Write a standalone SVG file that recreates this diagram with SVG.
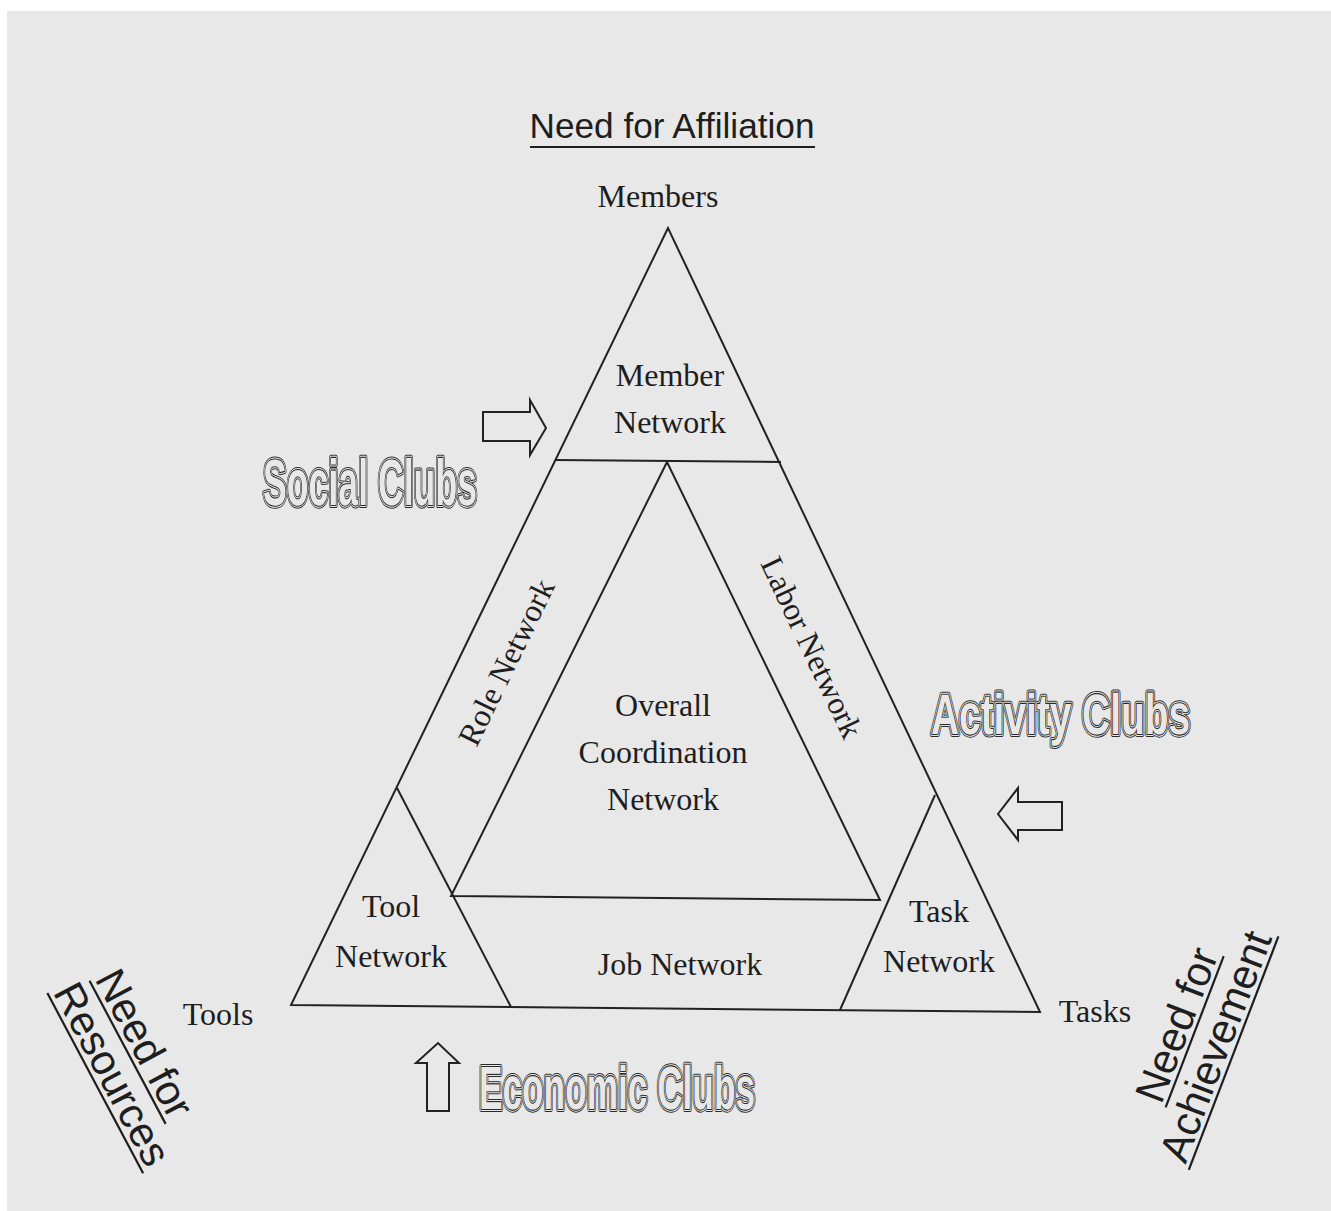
<svg xmlns="http://www.w3.org/2000/svg" width="1331" height="1211" viewBox="0 0 1331 1211">
<defs>
<style>
.ln{fill:none;stroke:#222;stroke-width:2;stroke-linejoin:miter}
.sf{font-family:"Liberation Serif","Times New Roman",serif;fill:#1e1e1e;font-size:32px;text-anchor:middle}
.ss{font-family:"Liberation Sans",Arial,sans-serif;fill:#1e1e1e;text-anchor:middle}
.ul{stroke:#1e1e1e;stroke-width:2.2}
.o{font-family:"Liberation Sans",Arial,sans-serif;font-weight:bold;stroke-linejoin:round;text-rendering:geometricPrecision}
.o1{fill:#2a2a2a;stroke:#2a2a2a;stroke-width:6.2}
.o2{fill:#e8e8e8;stroke:#e8e8e8;stroke-width:4.2}
.o3{fill:#2a2a2a;stroke:#2a2a2a;stroke-width:2.2}
.o4{fill:#e8e8e8;stroke:none}
.ar{fill:#e8e8e8;stroke:#222;stroke-width:2;stroke-linejoin:miter}
</style>
</defs>
<rect x="0" y="0" width="1331" height="1211" fill="#ffffff"/>
<rect x="7" y="11" width="1324" height="1200" fill="#e8e8e8"/>

<g id="need-affiliation">
<text class="ss" x="672" y="138" font-size="35" textLength="285" lengthAdjust="spacingAndGlyphs">Need for Affiliation</text>
<line class="ul" x1="530" y1="147" x2="815" y2="147"/>
</g>
<g id="members"><text class="sf" x="658" y="207" font-size="34">Members</text></g>

<g id="outer-triangle">
<polygon class="ln" points="668,228 291,1005 1040,1012"/>
</g>
<g id="member-network">
<line class="ln" x1="555" y1="460" x2="781" y2="462"/>
<text class="sf" x="670" y="386">Member</text>
<text class="sf" x="670" y="433">Network</text>
</g>
<g id="coordination-network">
<polygon class="ln" points="667,462 451,896 880,900"/>
<text class="sf" x="663" y="716">Overall</text>
<text class="sf" x="663" y="763">Coordination</text>
<text class="sf" x="663" y="810">Network</text>
</g>
<g id="role-network"><text class="sf" font-size="37" transform="translate(516,667) rotate(-64)">Role Network</text></g>
<g id="labor-network"><text class="sf" font-size="37" transform="translate(802,652) rotate(64.6)">Labor Network</text></g>
<g id="tool-network">
<line class="ln" x1="397" y1="788" x2="511" y2="1007"/>
<text class="sf" x="391" y="917">Tool</text>
<text class="sf" x="391" y="967">Network</text>
</g>
<g id="task-network">
<line class="ln" x1="935" y1="795" x2="840" y2="1010"/>
<text class="sf" x="939" y="922">Task</text>
<text class="sf" x="939" y="972">Network</text>
</g>
<g id="job-network"><text class="sf" x="680" y="975">Job Network</text></g>
<g id="tools"><text class="sf" x="218" y="1025" font-size="33">Tools</text></g>
<g id="tasks"><text class="sf" x="1095" y="1022" font-size="33">Tasks</text></g>

<g id="social-clubs" class="o" font-size="65">
<text class="o1" x="263" y="505" textLength="214" lengthAdjust="spacingAndGlyphs">Social Clubs</text>
<text class="o2" x="263" y="505" textLength="214" lengthAdjust="spacingAndGlyphs">Social Clubs</text>
<text class="o3" x="263" y="505" textLength="214" lengthAdjust="spacingAndGlyphs">Social Clubs</text>
<text class="o4" x="263" y="505" textLength="214" lengthAdjust="spacingAndGlyphs">Social Clubs</text>
</g>
<g id="activity-clubs" class="o" font-size="57">
<text class="o1" x="931" y="734" textLength="259" lengthAdjust="spacingAndGlyphs">Activity Clubs</text>
<text class="o2" x="931" y="734" textLength="259" lengthAdjust="spacingAndGlyphs">Activity Clubs</text>
<text class="o3" x="931" y="734" textLength="259" lengthAdjust="spacingAndGlyphs">Activity Clubs</text>
<text class="o4" x="931" y="734" textLength="259" lengthAdjust="spacingAndGlyphs">Activity Clubs</text>
</g>
<g id="economic-clubs" class="o" font-size="61">
<text class="o1" x="479" y="1109" textLength="276" lengthAdjust="spacingAndGlyphs">Economic Clubs</text>
<text class="o2" x="479" y="1109" textLength="276" lengthAdjust="spacingAndGlyphs">Economic Clubs</text>
<text class="o3" x="479" y="1109" textLength="276" lengthAdjust="spacingAndGlyphs">Economic Clubs</text>
<text class="o4" x="479" y="1109" textLength="276" lengthAdjust="spacingAndGlyphs">Economic Clubs</text>
</g>

<g id="need-resources" transform="translate(132,1050) rotate(62)">
<text class="ss" x="0" y="0" font-size="42">Need for</text>
<line class="ul" x1="-81" y1="5" x2="81" y2="5"/>
<text class="ss" x="12" y="43" font-size="42">Resources</text>
<line class="ul" x1="-90" y1="48" x2="114" y2="48"/>
</g>
<g id="need-achievement" transform="translate(1190,1030) rotate(-69)">
<text class="ss" x="0" y="0" font-size="42">Need for</text>
<line class="ul" x1="-81" y1="5" x2="81" y2="5"/>
<text class="ss" x="-6" y="44" font-size="42">Achievement</text>
<line class="ul" x1="-131" y1="49" x2="119" y2="49"/>
</g>

<g id="connectors">
<path class="ar" d="M483,412 H530 V400 L546,428 L530,455 V441 H483 Z"/>
<path class="ar" d="M1062,802 H1018 V788 L998,814 L1018,840 V830 H1062 Z"/>
<path class="ar" d="M427,1111 V1063 H416 L438,1043 L459,1063 H449 V1111 Z"/>
</g>
</svg>
